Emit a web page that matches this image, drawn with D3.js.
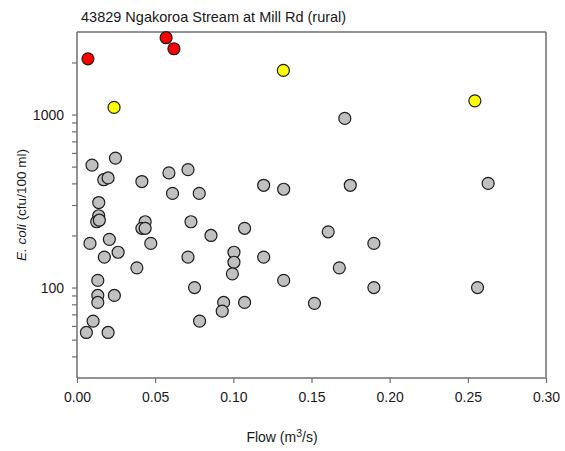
<!DOCTYPE html>
<html>
<head>
<meta charset="utf-8">
<script src="https://cdn.jsdelivr.net/npm/d3@7"></script>
<style>
  body { margin: 0; background: #fff; }
  svg { display: block; }
  text { font-family: "Liberation Sans", Arial, sans-serif; fill: #1a1a1a; }
</style>
</head>
<body>
<svg id="chart" width="565" height="451"></svg>
<script>
// Ngakoroa Stream at Mill Rd: E. coli against flow
const title = "43829 Ngakoroa Stream at Mill Rd (rural)";

// Samples above the action threshold (red)
const redFlow  = [0.007, 0.057, 0.062];
const redEcoli = [2100, 2780, 2400];

// Samples in the alert band (yellow)
const yellowFlow  = [0.0237, 0.132, 0.2545];
const yellowEcoli = [1100, 1800, 1200];

// All other samples (grey)
const greyFlow = [
  0.0096, 0.0246, 0.0171, 0.0199, 0.0415, 0.0588, 0.0710, 0.0611, 0.0782, 0.1194,
  0.1322, 0.0139, 0.0139, 0.0126, 0.0143, 0.0436, 0.0415, 0.0436, 0.0729, 0.1072,
  0.0857, 0.0083, 0.0207, 0.0472, 0.0175, 0.0263, 0.0383, 0.0710, 0.1004, 0.1004,
  0.0994, 0.1194, 0.1322, 0.0133, 0.0752, 0.0133, 0.0239, 0.0133, 0.0938, 0.0929,
  0.1072, 0.0103, 0.0784, 0.0060, 0.0199, 0.1713, 0.1748, 0.2630, 0.1607, 0.1899,
  0.1678, 0.1899, 0.2562, 0.1519
];
const greyEcoli = [
  510, 560, 420, 430, 410, 460, 480, 350, 350, 390,
  370, 310, 260, 240, 245, 240, 220, 220, 240, 220,
  200, 180, 190, 180, 150, 160, 130, 150, 160, 140,
  120, 150, 110, 110, 100, 90, 90, 82, 82, 73,
  82, 64, 64, 55, 55, 950, 390, 400, 210, 180,
  130, 100, 100, 81
];

const xTicks = [0, 0.05, 0.10, 0.15, 0.20, 0.25, 0.30];
const yMajorTicks = [100, 1000];
const yMinorTicks = [40, 50, 60, 70, 80, 90, 200, 300, 400, 500, 600, 700, 800, 900, 2000];

const svg = d3.select("#chart");
const plotLeft = 77, plotRight = 546, plotTop = 32, plotBottom = 378;
const axisColor = "#6e6e6e";

const x = d3.scaleLinear().domain([0, 0.30]).range([plotLeft, plotRight]);
const y = d3.scaleLog().domain([30, 3000]).range([plotBottom, plotTop]);

// Title
svg.append("text")
  .attr("x", 81).attr("y", 22)
  .attr("font-size", 14.5)
  .text(title);

// Frame: top and right edges
svg.append("line")
  .attr("x1", plotLeft).attr("x2", plotRight).attr("y1", plotTop).attr("y2", plotTop)
  .attr("stroke", axisColor).attr("stroke-width", 1.5);
svg.append("line")
  .attr("x1", plotRight).attr("x2", plotRight).attr("y1", plotTop).attr("y2", plotBottom)
  .attr("stroke", axisColor).attr("stroke-width", 1.5);

// X axis
const xAxis = d3.axisBottom(x)
  .tickValues(xTicks)
  .tickFormat(d3.format(".2f"))
  .tickSizeOuter(0)
  .tickSize(5)
  .tickPadding(9);
const gx = svg.append("g").attr("transform", `translate(0,${plotBottom})`).call(xAxis);

// Y axis: major ticks with labels, minor ticks without
const yAxis = d3.axisLeft(y)
  .tickValues(yMajorTicks)
  .tickFormat(d3.format("d"))
  .tickSizeOuter(0)
  .tickSize(5)
  .tickPadding(8);
const gy = svg.append("g").attr("transform", `translate(${plotLeft},0)`).call(yAxis);
const gyMinor = svg.append("g").attr("transform", `translate(${plotLeft},0)`)
  .call(d3.axisLeft(y).tickValues(yMinorTicks).tickFormat("").tickSize(5).tickSizeOuter(0));
gyMinor.select(".domain").remove();

[gx, gy, gyMinor].forEach(g => {
  g.selectAll(".domain").attr("stroke", axisColor).attr("stroke-width", 1.5);
  g.selectAll(".tick line").attr("stroke", axisColor).attr("stroke-width", 1.2);
  g.selectAll(".tick text")
    .attr("font-family", "'Liberation Sans', Arial, sans-serif")
    .attr("font-size", 14).attr("fill", "#1a1a1a");
});
// axis lines span the whole plot
gy.select(".domain").attr("d", `M0,${plotBottom}V${plotTop}`);
gx.select(".domain").attr("d", `M${plotLeft},0H${plotRight}`);

// Axis titles
svg.append("text")
  .attr("x", 282).attr("y", 442)
  .attr("text-anchor", "middle")
  .attr("font-size", 14)
  .call(t => {
    t.append("tspan").text("Flow (m");
    t.append("tspan").attr("font-size", 10.5).attr("dy", -5).text("3");
    t.append("tspan").attr("dy", 5).text("/s)");
  });

svg.append("text")
  .attr("transform", "translate(26,205) rotate(-90)")
  .attr("text-anchor", "middle")
  .attr("font-size", 13.5)
  .call(t => {
    t.append("tspan").attr("font-style", "italic").text("E. coli");
    t.append("tspan").text(" (cfu/100 ml)");
  });

// Points
const groups = [
  { flow: greyFlow, ecoli: greyEcoli, fill: "#c0c0c0" },
  { flow: yellowFlow, ecoli: yellowEcoli, fill: "#ffff00" },
  { flow: redFlow, ecoli: redEcoli, fill: "#ff0000" }
];
groups.forEach(gp => {
  svg.append("g").selectAll("circle")
    .data(gp.flow.map((f, i) => [f, gp.ecoli[i]]))
    .join("circle")
    .attr("cx", d => x(d[0]))
    .attr("cy", d => y(d[1]))
    .attr("r", 6)
    .attr("fill", gp.fill)
    .attr("stroke", "#1e1e1e")
    .attr("stroke-width", 1.2);
});
</script>
</body>
</html>
